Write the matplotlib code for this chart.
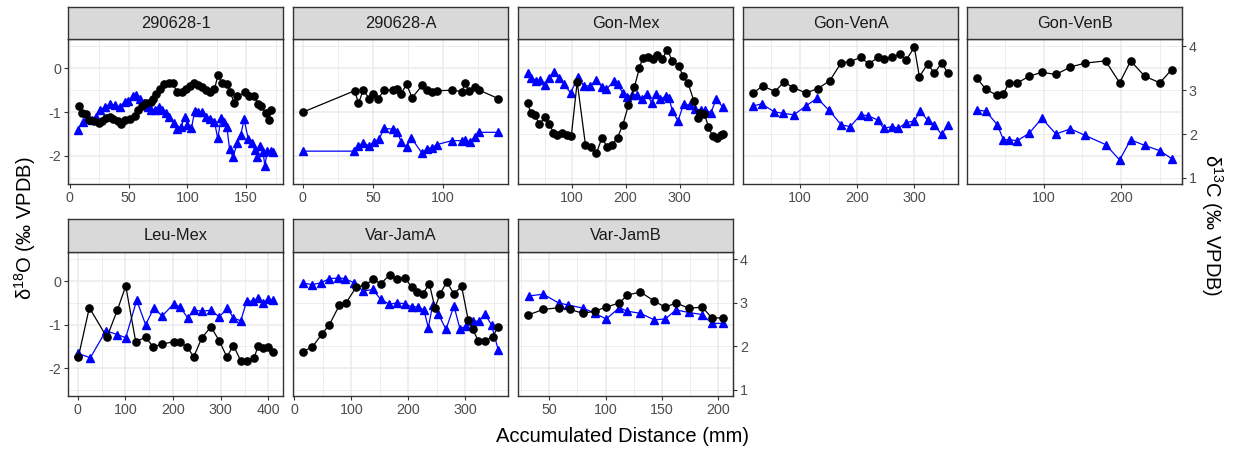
import numpy as np
import matplotlib.pyplot as plt
from matplotlib.ticker import MultipleLocator

plt.rcParams['font.family'] = ['Liberation Sans', 'DejaVu Sans']
plt.rcParams['axes.unicode_minus'] = False
plt.rcParams['mathtext.default'] = 'regular'

# d13C is drawn on the d18O scale shifted by this amount (secondary axis)
OFFSET = 3.5

samples = ['290628-1', '290628-A', 'Gon-Mex', 'Gon-VenA', 'Gon-VenB',
           'Leu-Mex', 'Var-JamA', 'Var-JamB']

# 290628-1
x1_o = [7.6, 10.4, 13.7, 16.5, 20.2, 24.4, 27.2, 30.5, 34.2, 37, 40.6, 43.4, 46.8, 51, 55.2,
        58, 61.3, 65, 68.6, 70.6, 73.4, 77, 80.4, 84.6, 87.4, 91, 95, 98.6, 102.2, 105.6,
        109, 112.6, 116.2, 119.6, 123, 126, 129.4, 133.6, 136.4, 139.8, 142.6, 149, 152.7,
        156.6, 160.2, 163, 166.7, 169.5, 171.4]
o1 = [-0.85, -1.01, -1.04, -1.18, -1.20, -1.24, -1.20, -1.14, -1.12, -1.15, -1.20, -1.26,
      -1.18, -1.15, -1.09, -0.95, -0.86, -0.78, -0.76, -0.69, -0.59, -0.46, -0.36, -0.33,
      -0.34, -0.53, -0.53, -0.48, -0.40, -0.34, -0.38, -0.43, -0.49, -0.53, -0.48, -0.15,
      -0.33, -0.36, -0.53, -0.80, -0.63, -0.55, -0.63, -0.63, -0.81, -0.86, -1.03, -1.18, -0.95]
x1_c = [6.7, 10.9, 14.6, 18.8, 22.1, 25.8, 30, 34.2, 38.4, 42.6, 46.8, 49.6, 53.8, 56.6, 59.4,
        63, 66.4, 69.2, 72, 75.4, 78.2, 81.8, 84.6, 88.2, 91, 94.4, 97.8, 100, 103.4, 106.2,
        109, 112.6, 116.2, 119.6, 123, 125.8, 128.6, 130.8, 133.6, 135.8, 138.6, 142.6, 145.4,
        148.2, 151.8, 154.6, 157.4, 159.4, 161.6, 164.4, 165.8, 168, 171, 173]
c1 = [2.09, 2.28, 2.36, 2.32, 2.40, 2.55, 2.62, 2.69, 2.66, 2.62, 2.74, 2.76, 2.87, 2.89, 2.81,
      2.70, 2.62, 2.55, 2.55, 2.62, 2.56, 2.47, 2.38, 2.26, 2.11, 2.17, 2.38, 2.21, 2.13, 2.53,
      2.51, 2.51, 2.40, 2.34, 2.28, 1.90, 2.36, 2.28, 2.15, 1.67, 1.48, 1.79, 1.98, 2.34, 1.88,
      1.79, 1.64, 1.48, 1.73, 1.60, 1.27, 1.62, 1.62, 1.60]

# 290628-A
x2_o = [0, 37.1, 39.7, 43.2, 47.3, 50.3, 53.9, 57.9, 64.5, 67.4, 70.2, 74, 78, 85.1, 88.6,
        92.2, 95.7, 106.4, 113.5, 115.8, 118.2, 122.9, 126, 139.4]
o2 = [-1.0, -0.51, -0.80, -0.49, -0.69, -0.58, -0.69, -0.50, -0.49, -0.47, -0.58, -0.36,
      -0.67, -0.39, -0.50, -0.53, -0.51, -0.50, -0.53, -0.33, -0.51, -0.42, -0.50, -0.69]
x2_c = [0, 36.6, 39.5, 43.2, 47.3, 50.8, 54.4, 57.9, 64.5, 67.4, 70.2, 74, 77.3, 85.1, 88.6,
        92.2, 95.7, 106.4, 113.5, 115.8, 119, 122.9, 126, 139.4]
c2 = [1.61, 1.61, 1.73, 1.80, 1.73, 1.82, 1.88, 2.13, 2.11, 2.05, 1.82, 1.71, 1.92, 1.56,
      1.67, 1.69, 1.76, 1.85, 1.85, 1.87, 1.82, 1.94, 2.04, 2.04]

# Gon-Mex
x3_o = [19, 24.5, 32.2, 40.2, 50.6, 58.5, 66.5, 73.8, 83, 91, 99.5, 110.5, 125.8, 136.2,
        146, 156.4, 165.5, 174.7, 185.1, 194.9, 205.3, 216.3, 225.5, 231.6, 242, 251.2, 258.5,
        268.3, 276.9, 286.6, 298.9, 306.2, 315.4, 326.4, 333.7, 338, 346, 353.3, 361.3, 368.6,
        376.5, 380.8]
o3 = [-0.78, -1.03, -1.07, -1.27, -1.12, -1.26, -1.47, -1.52, -1.47, -1.53, -1.55, -0.31,
      -1.75, -1.79, -1.94, -1.58, -1.79, -1.75, -1.58, -1.29, -0.84, -0.43, 0.0, 0.23, 0.27,
      0.21, 0.30, 0.21, 0.43, 0.17, 0.05, -0.18, -0.33, -0.74, -1.14, -1.01, -1.04, -1.33,
      -1.55, -1.58, -1.53, -1.50]
x3_c = [19, 25.5, 34, 42, 50.6, 58.5, 67.7, 76.9, 86, 98.3, 112.3, 122.7, 133.7, 146, 156.4,
        164.3, 177.8, 185.1, 194.9, 203.5, 211.4, 220.6, 229.8, 239, 248.1, 256.1, 264.6,
        274.4, 280.5, 286.6, 297, 307.4, 318.4, 329.4, 339.9, 347.8, 358.2, 367.4, 380.8]
c3 = [3.39, 3.28, 3.22, 3.23, 3.12, 3.29, 3.42, 3.28, 3.14, 2.94, 3.31, 3.10, 3.10, 3.23,
      3.08, 3.02, 3.20, 3.14, 2.94, 2.85, 2.89, 2.89, 2.79, 2.92, 2.72, 2.91, 2.79, 2.87,
      2.82, 2.53, 2.30, 2.68, 2.66, 2.57, 2.55, 2.55, 2.49, 2.79, 2.61]

# Gon-VenA
x4_o = [18.8, 35.1, 56.5, 72.2, 88.4, 110.4, 131.9, 152.2, 172.4, 186.9, 206, 220.6, 236.2,
        246.1, 260.6, 275.1, 285.5, 300, 308.7, 323.2, 334.8, 348.1, 358]
o4 = [-0.56, -0.40, -0.53, -0.31, -0.44, -0.56, -0.46, -0.28, 0.13, 0.15, 0.25, 0.10, 0.25,
      0.21, 0.25, 0.32, 0.19, 0.48, -0.19, 0.10, -0.11, 0.13, -0.11]
x4_c = [17.7, 33.3, 54.8, 71, 89.6, 110.4, 130.2, 151, 172.4, 188, 206, 218.8, 236.2, 246.1,
        260.6, 272.2, 285.5, 300, 309.8, 323.2, 334.8, 347.5, 359.1]
c4 = [2.64, 2.69, 2.51, 2.47, 2.44, 2.64, 2.82, 2.54, 2.21, 2.17, 2.44, 2.42, 2.32, 2.13,
      2.17, 2.13, 2.26, 2.30, 2.52, 2.32, 2.21, 1.99, 2.21]

# Gon-VenB
x5_o = [14, 25.8, 39.6, 48.3, 55.6, 66.4, 81.5, 97.8, 115.9, 134.5, 153.4, 179.8, 197.9,
        212.1, 230.2, 249.7, 264.8]
o5 = [-0.22, -0.48, -0.61, -0.58, -0.33, -0.33, -0.18, -0.09, -0.14, 0.03, 0.12, 0.17, -0.33,
      0.17, -0.18, -0.33, -0.03]
x5_c = [14, 25.8, 40.5, 48.3, 55.6, 66.4, 81.5, 97.8, 115.9, 134.5, 153.4, 179.8, 197.9,
        212.1, 230.2, 249.7, 265.6]
c5 = [2.55, 2.52, 2.21, 1.87, 1.87, 1.85, 2.02, 2.36, 2.00, 2.12, 1.97, 1.76, 1.41, 1.87,
      1.74, 1.62, 1.43]

# Leu-Mex
x6_o = [1.3, 24.3, 61.1, 83.3, 100.7, 121.6, 142.4, 158.4, 176.5, 201.6, 215.5, 229.4, 243.3,
        260.7, 279.5, 296.9, 312.9, 326.8, 342.1, 354.6, 369.9, 379, 389.4, 399.8, 410.3]
o6 = [-1.74, -0.61, -1.29, -0.66, -0.11, -1.39, -1.29, -1.51, -1.45, -1.39, -1.41, -1.51,
      -1.74, -1.30, -1.05, -1.37, -1.74, -1.48, -1.83, -1.84, -1.77, -1.48, -1.53, -1.51, -1.63]
x6_c = [0, 26.4, 59.1, 83.3, 100.7, 123.7, 142.4, 159.8, 177.2, 201.6, 215.5, 230.8, 243.3,
        260.7, 279.5, 296.9, 314.3, 326.8, 342.1, 354.6, 368.5, 379, 389.4, 399.8, 410.3]
c6 = [1.84, 1.74, 2.36, 2.27, 2.20, 3.06, 2.50, 2.88, 2.70, 2.98, 2.90, 2.65, 2.83, 2.81,
      2.83, 2.68, 2.88, 2.65, 2.59, 3.04, 3.04, 3.12, 3.00, 3.08, 3.06]

# Var-JamA
x7_o = [14.6, 31.6, 48, 61.4, 79, 90.6, 108.2, 124, 138.6, 151.5, 167.8, 180.7, 194.2, 205.8,
        215.8, 225.1, 236.8, 246.8, 255.6, 267.3, 280.1, 293.6, 305.3, 312.9, 322.8, 334.5,
        348, 357.9]
o7 = [-1.62, -1.51, -1.22, -1.00, -0.55, -0.50, -0.14, -0.09, 0.04, -0.06, 0.15, 0.04, 0.08,
      -0.14, -0.24, -0.30, -0.06, -0.61, -0.30, -0.02, -0.29, -0.12, -0.90, -1.10, -1.37,
      -1.37, -1.28, -1.05]
x7_c = [14.6, 30.4, 46.2, 61.4, 77.2, 88.9, 104.7, 121, 137.4, 151.5, 166.7, 180.7, 194.2,
        205.8, 217.5, 227.5, 235.1, 242.7, 252.6, 266.1, 280.1, 290.6, 301.2, 314, 324.5,
        334.5, 346.2, 357.9]
c7 = [3.46, 3.42, 3.46, 3.56, 3.57, 3.56, 3.46, 3.27, 3.31, 3.08, 2.97, 3.00, 2.98, 2.91,
      2.91, 2.83, 2.43, 2.95, 2.75, 2.39, 2.93, 2.41, 2.46, 2.58, 2.58, 2.75, 2.49, 1.92]

# Var-JamB
x8_o = [30.9, 44.7, 58.8, 68.2, 80, 90.6, 100, 112.3, 119.1, 130.9, 143.3, 153, 162.4, 173.6,
        186, 194.1, 204.4]
o8 = [-0.78, -0.65, -0.61, -0.65, -0.74, -0.69, -0.60, -0.50, -0.32, -0.25, -0.46, -0.60,
      -0.50, -0.62, -0.60, -0.84, -0.85]
x8_c = [31.7, 44.7, 58.2, 67, 80, 90.6, 100.5, 112.3, 119.1, 130.9, 143.3, 153, 162.4, 173.6,
        186, 194.1, 204.4]
c8 = [3.16, 3.20, 3.00, 2.95, 2.88, 2.76, 2.63, 2.89, 2.81, 2.76, 2.61, 2.63, 2.84, 2.78,
      2.73, 2.53, 2.53]

series = [(x1_o, o1, x1_c, c1), (x2_o, o2, x2_c, c2), (x3_o, o3, x3_c, c3),
          (x4_o, o4, x4_c, c4), (x5_o, o5, x5_c, c5), (x6_o, o6, x6_c, c6),
          (x7_o, o7, x7_c, c7), (x8_o, o8, x8_c, c8)]
x_steps = [50, 50, 100, 100, 100, 100, 100, 50]

W, H = 1236, 450
fig = plt.figure(figsize=(W / 100, H / 100), dpi=100)


def box(left, top, w, h):
    return [left / W, 1 - (top + h) / H, w / W, h / H]


col_left = [68, 293, 518, 743, 967]
pw = 215
rows = [(7, 39, 184), (219, 252, 396)]  # strip top, panel top, panel bottom
edge = '#333333'
grid_col = '#EBEBEB'

for i, name in enumerate(samples):
    r, c = divmod(i, 5)
    st, pt, pb = rows[r]
    left = col_left[c]
    xo, o, xc, cc = series[i]

    ax = fig.add_axes(box(left, pt, pw, pb - pt))
    sax = fig.add_axes(box(left, st, pw, pt - st))

    # strip
    sax.set_facecolor('#D9D9D9')
    sax.set_xticks([])
    sax.set_yticks([])
    for s in sax.spines.values():
        s.set_color(edge)
        s.set_linewidth(1.0)
    sax.text(0.5, 0.5, name, ha='center', va='center', fontsize=11.8,
             color='#1A1A1A', transform=sax.transAxes)

    # panel
    ax.set_axisbelow(True)
    ax.plot(xc, np.array(cc) - OFFSET, color='blue', lw=0.9, marker='^', ms=6, zorder=3)
    ax.plot(xo, o, color='black', lw=0.9, marker='o', ms=5.2, zorder=4)

    allx = np.array(xo + xc)
    span = allx.max() - allx.min()
    ax.set_xlim(allx.min() - 0.05 * span, allx.max() + 0.05 * span)
    ax.set_ylim(-2.64, 0.67)

    ax.xaxis.set_major_locator(MultipleLocator(x_steps[i]))
    ax.xaxis.set_minor_locator(MultipleLocator(x_steps[i] / 2))
    ax.yaxis.set_major_locator(MultipleLocator(1))
    ax.yaxis.set_minor_locator(MultipleLocator(0.5))
    ax.grid(which='major', color=grid_col, lw=1.1)
    ax.grid(which='minor', color=grid_col, lw=0.6)

    for s in ax.spines.values():
        s.set_color(edge)
        s.set_linewidth(1.0)
    ax.tick_params(which='major', direction='out', length=3, width=0.8, color=edge,
                   labelcolor='#4D4D4D', labelsize=10.3, pad=2)
    ax.tick_params(which='minor', length=0)
    if c != 0:
        ax.tick_params(axis='y', which='both', left=False, labelleft=False)

    # d13C axis on the last panel of each row
    if i in (4, 7):
        sec = ax.secondary_yaxis('right', functions=(lambda v: v + OFFSET,
                                                     lambda v: v - OFFSET))
        sec.set_yticks([1, 2, 3, 4])
        sec.tick_params(direction='out', length=3, width=0.8, color=edge,
                        labelcolor='#4D4D4D', labelsize=10.3, pad=2)
        sec.spines['right'].set_color(edge)

fig.text(25 / W, 1 - 228 / H, r'δ$^{18}$O (‰ VPDB)', rotation=90, ha='center',
         va='center', fontsize=14.5)
fig.text(1212 / W, 1 - 225 / H, r'δ$^{13}$C (‰ VPDB)', rotation=270, ha='center',
         va='center', fontsize=14.5)
fig.text(623 / W, 1 - 436 / H, 'Accumulated Distance (mm)', ha='center', va='center',
         fontsize=14.5)

fig.savefig('out.png', dpi=100)
